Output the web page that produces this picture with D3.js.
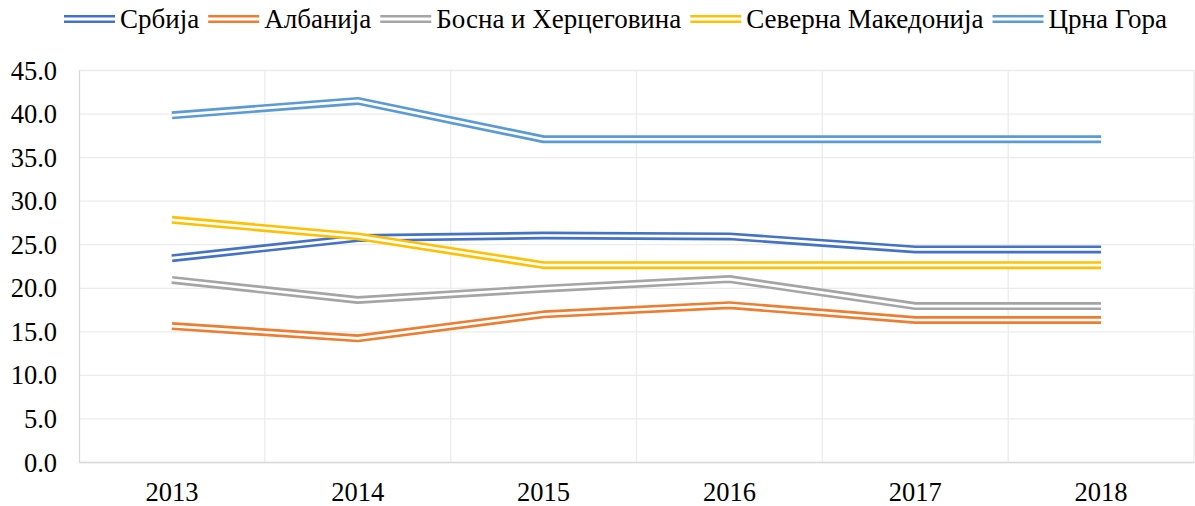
<!DOCTYPE html>
<html lang="sr">
<head>
    <meta charset="utf-8">
    <title>Chart</title>
    <script src="https://d3js.org/d3.v7.min.js"></script>
<style>
    body { margin: 0; background: #fff; }
    #chart1 text { font-family: "Liberation Serif", "Times New Roman", serif; fill: #000; }
</style>
</head>
<body>
  <div id="chart1"></div>

<script>

    // data
    const years = ["2013", "2014", "2015", "2016", "2017", "2018"]
    const seriesNames = ["Србија", "Албанија", "Босна и Херцеговина", "Северна Македонија", "Црна Гора"]
    const seriesColors = ["#4472C4", "#ED7D31", "#A5A5A5", "#FFC000", "#5B9BD5"]
    const srbija = [23.4, 25.7, 26.0, 25.9, 24.4, 24.4]
    const albanija = [15.6, 14.2, 16.95, 18.0, 16.3, 16.3]
    const bosna = [20.9, 18.6, 19.9, 21.0, 17.9, 17.9]
    const makedonija = [27.8, 25.9, 22.6, 22.6, 22.6, 22.6]
    const crnaGora = [39.8, 41.45, 37.05, 37.05, 37.05, 37.05]
    const yTicks = [0, 5, 10, 15, 20, 25, 30, 35, 40, 45]

    const seriesValues = [srbija, albanija, bosna, makedonija, crnaGora]

    const chartApp = {}
    const fontFamily = '"Liberation Serif", "Times New Roman", serif'

    chartApp.buildChart = () => {

        const totalWidth = 1195,
              totalHeight = 506

        // set the dimensions and margins of the graph
        var margin = {top: 70, right: 1, bottom: 44, left: 79},
            width = totalWidth - margin.left - margin.right,
            height = totalHeight - margin.top - margin.bottom;

        var root = d3.select("#chart1")
          .append("svg")
            .attr("width", totalWidth)
            .attr("height", totalHeight)

        var svg = root.append("g")
            .attr("transform", "translate(" + margin.left + "," + margin.top + ")");

        var x = d3.scaleBand()
            .domain(years)
            .range([0, width]);

        var y = d3.scaleLinear()
            .domain([0, 45])
            .range([height, 0]);

        // horizontal gridlines
        svg.append("g")
            .attr("class", "grid")
            .call(d3.axisLeft(y).tickValues(yTicks).tickSize(-width).tickFormat(""))
            .call(g => g.select(".domain").remove())
            .call(g => g.selectAll("line").attr("stroke", "#ececec").attr("stroke-width", 1.3))

        // vertical gridlines between categories
        svg.append("g")
            .selectAll("line")
            .data(years)
            .enter().append("line")
              .attr("x1", d => x(d) + x.bandwidth())
              .attr("x2", d => x(d) + x.bandwidth())
              .attr("y1", 0)
              .attr("y2", height)
              .attr("stroke", "#ececec")
              .attr("stroke-width", 1.3)

        // y axis labels
        var yAxis = svg.append("g")
            .call(d3.axisLeft(y).tickValues(yTicks).tickSize(0).tickPadding(22).tickFormat(d3.format(".1f")))
        yAxis.select(".domain").attr("stroke", "#d9d9d9").attr("stroke-width", 1.3)
        yAxis.selectAll("text")
            .style("font-family", fontFamily)
            .style("font-size", "26.5px")
            .attr("dy", "0.34em")

        // x axis
        var xAxis = svg.append("g")
            .attr("transform", "translate(0," + height + ")")
            .call(d3.axisBottom(x).tickSize(0).tickPadding(20))
        xAxis.select(".domain").attr("stroke", "#d9d9d9").attr("stroke-width", 1.3)
        xAxis.selectAll("text")
            .style("font-family", fontFamily)
            .style("font-size", "26.5px")

        var line = d3.line()
            .x((d, i) => x(years[i]) + x.bandwidth() / 2)
            .y(d => y(d))

        // double (compound) lines: wide coloured stroke + white core
        seriesValues.forEach(function(vals, k) {
            var g = svg.append("g")
            g.append("path")
                .datum(vals)
                .attr("d", line)
                .attr("fill", "none")
                .attr("stroke", seriesColors[k])
                .attr("stroke-width", 8)
                .attr("stroke-linejoin", "round")
            g.append("path")
                .datum(vals)
                .attr("d", line)
                .attr("fill", "none")
                .attr("stroke", "#fff")
                .attr("stroke-width", 2.7)
                .attr("stroke-linejoin", "round")
        })

        // legend
        var legend = root.append("g").attr("class", "legend")
        var lx = 64,
            ly = 19
        seriesNames.forEach(function(name, k) {
            var item = legend.append("g")
            item.append("line")
                .attr("x1", lx).attr("x2", lx + 51)
                .attr("y1", ly).attr("y2", ly)
                .attr("stroke", seriesColors[k])
                .attr("stroke-width", 8)
            item.append("line")
                .attr("x1", lx - 1).attr("x2", lx + 52)
                .attr("y1", ly).attr("y2", ly)
                .attr("stroke", "#fff")
                .attr("stroke-width", 3)
            var t = item.append("text")
                .attr("x", lx + 56)
                .attr("y", ly + 9)
                .style("font-family", fontFamily)
                .style("font-size", "27px")
                .text(name)
            lx = lx + 56 + t.node().getComputedTextLength() + 9
        })
    }

    chartApp.buildChart()

</script>
</body>
</html>
